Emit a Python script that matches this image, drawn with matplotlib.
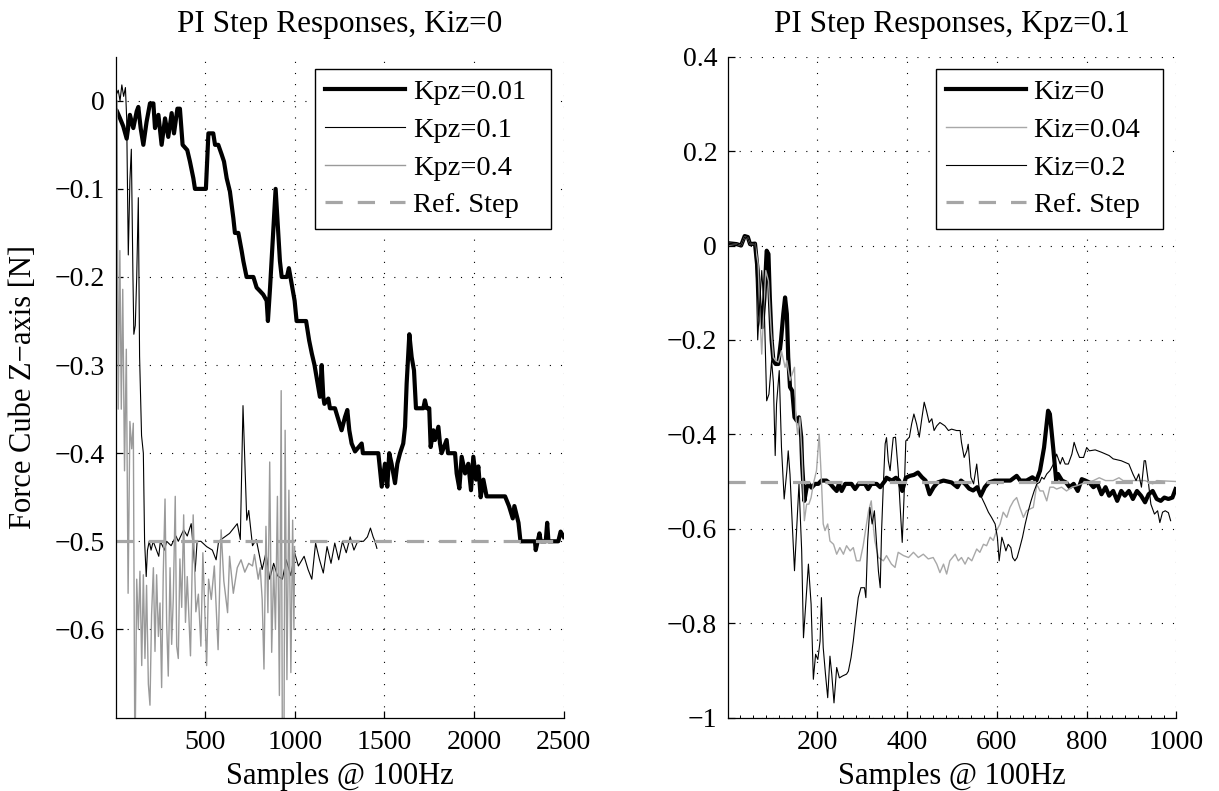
import numpy as np
import matplotlib
matplotlib.use("Agg")
import matplotlib.pyplot as plt
from matplotlib.ticker import FuncFormatter, AutoMinorLocator

plt.rcParams['font.family'] = ['Liberation Serif', 'DejaVu Serif']
plt.rcParams['font.size'] = 20

# ---- left panel: PI step responses, Kiz=0 ----
kpz001_x = [0, 6, 25, 43, 62, 80, 99, 118, 127, 140, 155, 173, 192, 211, 220, 239, 257, 276, 294,
            313, 326, 345, 359, 374, 400, 415, 434, 443, 504, 518, 545, 555, 573, 592, 605, 620,
            638, 657, 666, 685, 704, 713, 731, 769, 787, 806, 824, 843, 850, 862, 893, 917, 927,
            956, 967, 999, 1010, 1063, 1080, 1095, 1110, 1140, 1150, 1159, 1165, 1187, 1196,
            1224, 1261, 1280, 1293, 1304, 1317, 1336, 1373, 1380, 1466, 1485, 1503, 1516, 1527,
            1540, 1559, 1572, 1587, 1605, 1615, 1624, 1639, 1652, 1665, 1676, 1717, 1726, 1736,
            1750, 1758, 1773, 1782, 1801, 1810, 1819, 1847, 1855, 1894, 1903, 1918, 1931, 1950,
            1968, 1983, 1996, 2011, 2024, 2037, 2052, 2070, 2089, 2173, 2195, 2216, 2225, 2248,
            2259, 2340, 2344, 2365, 2372, 2400, 2408, 2415, 2470, 2483, 2500]
kpz001_y = [-0.010, -0.011, -0.020, -0.029, -0.043, -0.016, -0.031, -0.012, -0.007, -0.031,
            -0.050, -0.024, -0.003, -0.003, -0.031, -0.016, -0.050, -0.020, -0.041, -0.014,
            -0.037, -0.009, -0.009, -0.050, -0.056, -0.069, -0.088, -0.100, -0.100, -0.037,
            -0.037, -0.050, -0.050, -0.061, -0.069, -0.088, -0.103, -0.133, -0.150, -0.150,
            -0.171, -0.182, -0.200, -0.200, -0.212, -0.216, -0.220, -0.227, -0.250, -0.212,
            -0.100, -0.182, -0.200, -0.200, -0.190, -0.227, -0.250, -0.250, -0.272, -0.287,
            -0.300, -0.336, -0.300, -0.336, -0.344, -0.338, -0.349, -0.349, -0.374, -0.359,
            -0.351, -0.374, -0.389, -0.398, -0.389, -0.400, -0.400, -0.438, -0.412, -0.438,
            -0.400, -0.412, -0.434, -0.412, -0.400, -0.389, -0.370, -0.321, -0.265, -0.291,
            -0.306, -0.349, -0.349, -0.340, -0.349, -0.349, -0.393, -0.374, -0.385, -0.370,
            -0.389, -0.400, -0.385, -0.400, -0.400, -0.423, -0.440, -0.404, -0.423, -0.412,
            -0.442, -0.404, -0.430, -0.415, -0.450, -0.430, -0.449, -0.449, -0.449, -0.460,
            -0.474, -0.460, -0.479, -0.500, -0.500, -0.510, -0.491, -0.500, -0.500, -0.479,
            -0.500, -0.500, -0.489, -0.495]

kpz01_x = [0, 15, 25, 35, 45, 55, 62, 71, 80, 88, 97, 102, 110, 118, 127, 134, 145, 155, 162,
           171, 178, 188, 198, 210, 241, 250, 273, 285, 310, 337, 350, 380, 400, 422, 444, 455,
           476, 508, 540, 561, 575, 636, 679, 696, 711, 732, 743, 764, 785, 818, 839, 860, 882,
           903, 931, 952, 978, 999, 1020, 1052, 1074, 1095, 1116, 1138, 1159, 1180, 1202, 1223,
           1245, 1266, 1287, 1309, 1330, 1351, 1383, 1405, 1422, 1437, 1447, 1458]
kpz01_y = [0.005, 0.012, 0.000, 0.018, 0.005, 0.015, -0.020, -0.175, -0.090, -0.055, -0.200,
           -0.265, -0.255, -0.200, -0.110, -0.290, -0.380, -0.400, -0.500, -0.540, -0.510, -0.500,
           -0.510, -0.500, -0.517, -0.500, -0.510, -0.500, -0.505, -0.494, -0.500, -0.487, -0.494,
           -0.480, -0.534, -0.500, -0.500, -0.506, -0.510, -0.521, -0.500, -0.491, -0.480, -0.498,
           -0.346, -0.476, -0.465, -0.505, -0.498, -0.532, -0.513, -0.543, -0.525, -0.539, -0.543,
           -0.521, -0.539, -0.513, -0.528, -0.517, -0.532, -0.543, -0.502, -0.521, -0.536, -0.506,
           -0.525, -0.502, -0.521, -0.500, -0.513, -0.495, -0.510, -0.500, -0.500, -0.495, -0.485,
           -0.495, -0.500, -0.508]

kpz04_x = [0, 8, 15, 24, 32, 40, 50, 60, 70, 80, 90, 99, 108, 118, 127, 136, 146, 155, 164, 173,
           183, 192, 201, 211, 220, 229, 239, 248, 257, 266, 276, 285, 294, 304, 313, 322, 333,
           341, 350, 359, 369, 380, 390, 400, 418, 433, 448, 462, 476, 487, 508, 519, 534, 551,
           572, 589, 604, 625, 636, 657, 679, 700, 721, 743, 764, 775, 796, 807, 818, 828, 839,
           850, 860, 871, 882, 892, 903, 914, 924, 931, 939, 946, 956, 967, 978, 988, 995, 999]
kpz04_y = [0.000, 0.000, -0.350, -0.170, -0.350, -0.214, -0.420, -0.282, -0.559, -0.364, -0.395,
           -0.366, -0.760, -0.543, -0.600, -0.534, -0.641, -0.538, -0.633, -0.550, -0.662, -0.686,
           -0.583, -0.530, -0.625, -0.538, -0.608, -0.570, -0.666, -0.538, -0.452, -0.592, -0.653,
           -0.530, -0.617, -0.565, -0.449, -0.619, -0.633, -0.520, -0.575, -0.470, -0.592, -0.540,
           -0.630, -0.470, -0.580, -0.560, -0.619, -0.513, -0.641, -0.543, -0.566, -0.528, -0.623,
           -0.487, -0.545, -0.581, -0.517, -0.559, -0.530, -0.521, -0.535, -0.525, -0.528, -0.515,
           -0.543, -0.530, -0.566, -0.645, -0.483, -0.581, -0.410, -0.626, -0.530, -0.600, -0.449,
           -0.675, -0.329, -0.760, -0.760, -0.374, -0.657, -0.442, -0.649, -0.476, -0.600, -0.506]

ref_left_x = [0, 2500]
ref_left_y = [-0.5, -0.5]

# ---- right panel: PI step responses, Kpz=0.1 ----
kiz0_x = [0, 20, 30, 38, 45, 50, 61, 67, 72, 77, 82, 87, 91, 94, 98, 102, 107, 113, 119, 124,
          128, 132, 135, 139, 144, 149, 154, 159, 164, 166, 171, 176, 181, 187, 195, 202, 209,
          220, 229, 236, 243, 248, 254, 262, 276, 284, 292, 306, 313, 320, 332, 340, 351, 354,
          366, 375, 382, 389, 397, 406, 415, 424, 433, 441, 450, 459, 468, 481, 499, 512, 520,
          529, 538, 547, 556, 564, 573, 582, 595, 630, 644, 652, 666, 679, 688, 696, 705, 714,
          718, 726, 732, 736, 745, 754, 762, 771, 780, 789, 797, 806, 815, 824, 833, 842, 850,
          859, 868, 877, 885, 894, 903, 912, 921, 930, 938, 947, 956, 965, 973, 982, 991, 998]
kiz0_y = [0.005, 0.003, 0.000, 0.020, 0.018, 0.003, 0.004, -0.053, -0.145, -0.173, -0.110,
          -0.011, -0.018, -0.110, -0.200, -0.244, -0.251, -0.251, -0.200, -0.145, -0.110, -0.145,
          -0.237, -0.300, -0.308, -0.364, -0.371, -0.364, -0.406, -0.463, -0.541, -0.513, -0.505,
          -0.513, -0.505, -0.505, -0.498, -0.498, -0.505, -0.513, -0.520, -0.505, -0.520, -0.505,
          -0.505, -0.516, -0.505, -0.505, -0.516, -0.505, -0.505, -0.512, -0.498, -0.492, -0.498,
          -0.492, -0.498, -0.520, -0.492, -0.488, -0.486, -0.481, -0.491, -0.498, -0.527, -0.512,
          -0.502, -0.498, -0.502, -0.512, -0.498, -0.505, -0.515, -0.519, -0.512, -0.530, -0.512,
          -0.502, -0.498, -0.498, -0.488, -0.498, -0.498, -0.491, -0.498, -0.477, -0.428, -0.350,
          -0.357, -0.435, -0.498, -0.484, -0.498, -0.502, -0.512, -0.505, -0.520, -0.495, -0.498,
          -0.502, -0.512, -0.505, -0.527, -0.512, -0.530, -0.520, -0.541, -0.520, -0.530, -0.520,
          -0.537, -0.520, -0.530, -0.544, -0.527, -0.520, -0.537, -0.541, -0.534, -0.537, -0.534,
          -0.516]

kiz004_x = [0, 20, 30, 38, 45, 50, 61, 68, 72, 76,
            82, 85, 91, 97, 102, 107, 113, 120, 128, 132,
            139, 144, 149, 152, 156, 161, 166, 171, 176, 181,
            186, 191, 198, 204, 209, 213, 217, 223, 228, 236,
            243, 250, 258, 265, 273, 280, 287, 295, 302, 314,
            320, 325, 328, 336, 347, 354, 365, 373, 380, 392,
            403, 414, 425, 436, 447, 458, 466, 473, 481, 488,
            495, 507, 514, 521, 529, 536, 544, 555, 562, 570,
            577, 585, 592, 599, 607, 614, 622, 629, 637, 644,
            651, 659, 666, 674, 681, 689, 696, 703, 711, 718,
            726, 733, 744, 755, 767, 778, 789, 800, 815, 828,
            842, 859, 872, 881, 903, 930, 947, 956, 1000]
kiz004_y = [0.005, 0.003, 0.000, 0.018, 0.016, 0.003, 0.004, -0.039, -0.150, -0.230,
            -0.110, -0.053, -0.075, -0.180, -0.237, -0.244, -0.247, -0.223, -0.258, -0.244,
            -0.286, -0.272, -0.258, -0.364, -0.400, -0.364, -0.449, -0.583, -0.548, -0.548,
            -0.534, -0.505, -0.477, -0.400, -0.498, -0.590, -0.604, -0.590, -0.626, -0.633,
            -0.654, -0.640, -0.654, -0.636, -0.647, -0.640, -0.668, -0.668, -0.636, -0.562,
            -0.541, -0.598, -0.626, -0.661, -0.668, -0.657, -0.675, -0.682, -0.650, -0.657,
            -0.661, -0.650, -0.661, -0.654, -0.664, -0.661, -0.675, -0.693, -0.675, -0.696,
            -0.668, -0.654, -0.668, -0.661, -0.675, -0.661, -0.668, -0.643, -0.650, -0.633,
            -0.636, -0.618, -0.625, -0.604, -0.590, -0.565, -0.576, -0.555, -0.541, -0.534,
            -0.555, -0.576, -0.562, -0.558, -0.555, -0.506, -0.520, -0.520, -0.541, -0.512,
            -0.512, -0.516, -0.512, -0.520, -0.512, -0.509, -0.505, -0.502, -0.498, -0.492,
            -0.498, -0.498, -0.492, -0.498, -0.498, -0.498, -0.505, -0.498, -0.500]

kiz02_x = [0, 20, 30, 38, 45, 50, 61, 65, 67, 71, 76, 82, 87, 92, 98, 102, 106, 109, 115, 120,
           126, 132, 135, 139, 144, 149, 154, 159, 165, 169, 175, 180, 186, 191, 196, 201, 206,
           209, 213, 218, 223, 228, 232, 237, 243, 249, 256, 265, 269, 275, 280, 285, 291, 297,
           305, 308, 312, 317, 322, 327, 332, 336, 340, 343, 347, 351, 354, 358, 362, 366, 369,
           374, 380, 384, 389, 393, 397, 405, 410, 415, 421, 427, 432, 438, 443, 449, 455, 460,
           466, 473, 484, 492, 499, 510, 518, 521, 527, 533, 536, 542, 548, 555, 561, 566, 573,
           581, 588, 596, 601, 605, 611, 616, 620, 625, 631, 635, 640, 645, 651, 657, 663, 670,
           676, 683, 689, 695, 700, 705, 711, 718, 726, 733, 741, 746, 752, 759, 767, 772, 778,
           784, 793, 800, 806, 819, 833, 850, 859, 877, 894, 903, 910, 916, 922, 928, 931, 937,
           943, 951, 958, 963, 969, 975, 982, 987]
kiz02_y = [0.005, 0.003, 0.000, 0.018, 0.016, 0.003, 0.004, -0.110, -0.200, -0.130, -0.053,
           -0.145, -0.329, -0.315, -0.244, -0.290, -0.445, -0.336, -0.265, -0.428, -0.537,
           -0.477, -0.435, -0.485, -0.590, -0.689, -0.597, -0.505, -0.647, -0.831, -0.746,
           -0.675, -0.760, -0.919, -0.866, -0.877, -0.838, -0.746, -0.852, -0.908, -0.958,
           -0.870, -0.908, -0.969, -0.894, -0.916, -0.912, -0.908, -0.902, -0.873, -0.838,
           -0.795, -0.746, -0.725, -0.725, -0.746, -0.626, -0.555, -0.590, -0.562, -0.633,
           -0.690, -0.725, -0.605, -0.505, -0.420, -0.407, -0.456, -0.477, -0.435, -0.407,
           -0.406, -0.477, -0.547, -0.629, -0.534, -0.414, -0.406, -0.378, -0.357, -0.378,
           -0.406, -0.371, -0.332, -0.350, -0.375, -0.367, -0.392, -0.382, -0.375, -0.382,
           -0.392, -0.389, -0.392, -0.392, -0.417, -0.449, -0.435, -0.421, -0.491, -0.505,
           -0.463, -0.520, -0.534, -0.548, -0.565, -0.576, -0.590, -0.618, -0.668, -0.618,
           -0.633, -0.647, -0.633, -0.640, -0.661, -0.668, -0.661, -0.640, -0.618, -0.590,
           -0.562, -0.541, -0.520, -0.505, -0.502, -0.491, -0.495, -0.484, -0.477, -0.463,
           -0.442, -0.463, -0.449, -0.463, -0.463, -0.442, -0.417, -0.435, -0.449, -0.449,
           -0.428, -0.435, -0.433, -0.438, -0.445, -0.452, -0.456, -0.463, -0.484, -0.498,
           -0.484, -0.512, -0.456, -0.456, -0.498, -0.548, -0.569, -0.562, -0.587, -0.565,
           -0.562, -0.566, -0.583]

ref_right_x = [0, 1000]
ref_right_y = [-0.5, -0.5]

left_labels = ['Kpz=0.01', 'Kpz=0.1', 'Kpz=0.4', 'Ref. Step']
right_labels = ['Kiz=0', 'Kiz=0.04', 'Kiz=0.2', 'Ref. Step']


def matlab_fmt(v, pos):
    return ('%g' % round(v, 6)).replace('-', '\u2212')


def style_axes(ax):
    for s in ['top', 'right']:
        ax.spines[s].set_visible(False)
    for s in ['left', 'bottom']:
        ax.spines[s].set_linewidth(0.9)
    ax.tick_params(which='both', direction='in', top=False, right=False)
    ax.tick_params(which='major', length=5, width=0.9)
    ax.tick_params(which='minor', length=2.5, width=0.7)
    ax.tick_params(axis='x', which='major', pad=9)
    ax.tick_params(axis='y', which='major', pad=7.5)
    ax.grid(True, which='major', linestyle=(0, (1, 9)), color='black', linewidth=0.8)
    ax.xaxis.set_major_formatter(FuncFormatter(matlab_fmt))
    ax.yaxis.set_major_formatter(FuncFormatter(matlab_fmt))
    ax.set_xlabel('Samples @ 100Hz', fontsize=22, labelpad=5)


fig = plt.figure(figsize=(12.19, 7.91), dpi=100)
ax1 = fig.add_axes([0.0948, 0.0929, 0.3676, 0.8354])
ax2 = fig.add_axes([0.5969, 0.0929, 0.3682, 0.8354])

ax1.plot(kpz001_x, kpz001_y, color='black', lw=3.0, label=left_labels[0])
ax1.plot(kpz01_x, kpz01_y, color='black', lw=0.8, label=left_labels[1])
ax1.plot(kpz04_x, kpz04_y, color='#9a9a9a', lw=1.0, label=left_labels[2])
ax1.plot(ref_left_x, ref_left_y, color='#a6a6a6', lw=2.3, dashes=(5.4, 4.7), label=left_labels[3])
ax1.set_xlim(0, 2500)
ax1.set_ylim(-0.7, 0.05)
ax1.set_xticks([500, 1000, 1500, 2000, 2500])
ax1.set_yticks([-0.6, -0.5, -0.4, -0.3, -0.2, -0.1, 0])
style_axes(ax1)
ax1.set_title('PI Step Responses, Kiz=0', fontsize=22.5, pad=17.5)
ax1.set_ylabel('Force Cube Z\u2212axis [N]', fontsize=22)
ax1.yaxis.set_label_coords(-0.172, 0.5)

ax2.plot(kiz0_x, kiz0_y, color='black', lw=3.0, label=right_labels[0])
ax2.plot(kiz004_x, kiz004_y, color='#a8a8a8', lw=1.0, label=right_labels[1])
ax2.plot(kiz02_x, kiz02_y, color='black', lw=0.8, label=right_labels[2])
ax2.plot(ref_right_x, ref_right_y, color='#a6a6a6', lw=2.3, dashes=(5.4, 4.7), label=right_labels[3])
ax2.set_xlim(0, 1000)
ax2.set_ylim(-1, 0.4)
ax2.set_xticks([200, 400, 600, 800, 1000])
ax2.set_yticks([-1, -0.8, -0.6, -0.4, -0.2, 0, 0.2, 0.4])
ax2.xaxis.set_minor_locator(AutoMinorLocator(7))
style_axes(ax2)
ax2.set_title('PI Step Responses, Kpz=0.1', fontsize=22.5, pad=17.5)

# legend boxes placed like the MATLAB 'NorthEast' ones, stretched to their width
for ax, box in ((ax1, (0.445, 0.0, 0.5264, 0.981)), (ax2, (0.4635, 0.0, 0.5058, 0.981))):
    leg = ax.legend(loc='upper left', bbox_to_anchor=box, mode='expand', fontsize=20.5,
                    fancybox=False, framealpha=1, edgecolor='black', borderaxespad=0,
                    handlelength=2.8, handletextpad=0.28, labelspacing=0.41, borderpad=0.36)
    leg.get_frame().set_linewidth(1.0)

fig.savefig('out.png', dpi=100)
